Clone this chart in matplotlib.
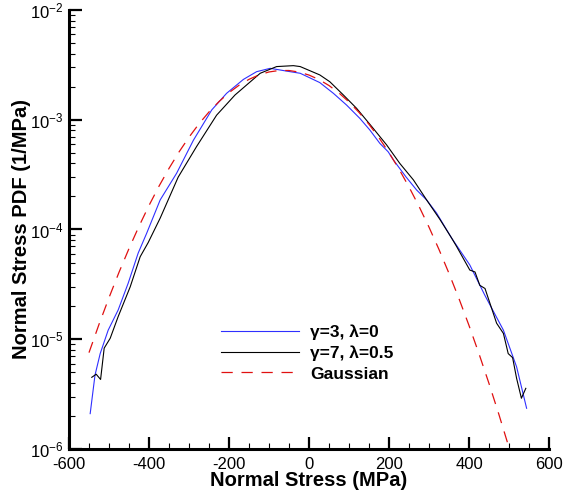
import numpy as np
import matplotlib
matplotlib.use('Agg')
import matplotlib.pyplot as plt
from matplotlib.ticker import LogLocator, MultipleLocator, NullFormatter

plt.rcParams['font.family'] = ['Liberation Sans', 'DejaVu Sans']
plt.rcParams['axes.unicode_minus'] = False

# Datos (esfuerzo normal en MPa, PDF en 1/MPa)
x_azul = [-547, -535, -522, -502, -477, -452, -427, -406, -372, -331, -289,
          -243, -206, -164, -131, -97, -47, -22, 27, 61, 94, 127, 152, 177,
          198, 211, 242, 269, 294, 319, 357, 402, 440, 486, 519, 544]
pdf_azul = [2.1e-6, 4.7e-6, 7.4e-6, 1.21e-5, 1.85e-5, 3.24e-5, 6.1e-5, 9.2e-5,
            1.86e-4, 3.25e-4, 6.5e-4, 1.23e-3, 1.74e-3, 2.33e-3, 2.74e-3,
            2.94e-3, 2.74e-3, 2.65e-3, 2.18e-3, 1.74e-3, 1.36e-3, 1.03e-3,
            8.07e-4, 6.1e-4, 5.1e-4, 4.3e-4, 3.03e-4, 2.29e-4, 1.86e-4,
            1.41e-4, 8.3e-5, 4.75e-5, 2.5e-5, 1.21e-5, 5.6e-6, 2.35e-6]

x_negro = [-543, -532, -521, -512, -497, -477, -447, -422, -402, -372, -327,
           -281, -231, -185, -122, -81, -39, -22, 27, 52, 86, 119, 157, 194,
           227, 261, 294, 327, 357, 369, 402, 415, 427, 440, 469, 486, 498,
           509, 519, 531, 542]
pdf_negro = [4.5e-6, 4.8e-6, 4.3e-6, 8.3e-6, 1.02e-5, 1.61e-5, 3.0e-5, 5.65e-5,
             7.6e-5, 1.27e-4, 3.0e-4, 5.7e-4, 1.10e-3, 1.68e-3, 2.65e-3,
             3.05e-3, 3.11e-3, 3.05e-3, 2.56e-3, 2.22e-3, 1.68e-3, 1.27e-3,
             8.65e-4, 5.9e-4, 4.0e-4, 2.83e-4, 1.86e-4, 1.24e-4, 8.3e-5,
             7.0e-5, 4.27e-5, 4.1e-5, 3.1e-5, 2.9e-5, 1.40e-5, 1.13e-5,
             7.4e-6, 6.8e-6, 4.4e-6, 2.9e-6, 3.57e-6]

x_gauss = [-550, -525, -500, -475, -450, -425, -400, -375, -350, -325, -300,
           -275, -250, -225, -200, -175, -150, -125, -100, -75, -50, -25, 0,
           25, 50, 75, 100, 125, 150, 175, 200, 225, 250, 275, 300, 325, 350,
           375, 400, 425, 450, 475, 500]
pdf_gauss = [7.55e-6, 1.365e-5, 2.39e-5, 4.07e-5, 6.70e-5, 1.069e-4, 1.654e-4,
             2.48e-4, 3.60e-4, 5.08e-4, 6.93e-4, 9.18e-4, 1.177e-3, 1.463e-3,
             1.764e-3, 2.061e-3, 2.333e-3, 2.561e-3, 2.724e-3, 2.809e-3,
             2.808e-3, 2.719e-3, 2.553e-3, 2.323e-3, 2.049e-3, 1.752e-3,
             1.452e-3, 1.166e-3, 9.08e-4, 6.85e-4, 5.01e-4, 3.55e-4, 2.44e-4,
             1.626e-4, 1.050e-4, 6.57e-5, 3.98e-5, 2.34e-5, 1.335e-5, 7.37e-6,
             3.95e-6, 2.05e-6, 1.03e-6]

etiquetas = ['\u03b3=3, \u03bb=0', '\u03b3=7, \u03bb=0.5', 'Gaussian']

fig = plt.figure(figsize=(5.72, 4.94), dpi=100)
ax = fig.add_axes([0.1206, 0.0911, 0.8392, 0.8887])

ax.plot(x_azul, pdf_azul, color='#2f2fff', lw=0.8, label=etiquetas[0])
ax.plot(x_negro, pdf_negro, color='black', lw=0.8, label=etiquetas[1])
ax.plot(x_gauss, pdf_gauss, color='#e01010', lw=0.9, linestyle=(0, (9, 7)),
        label=etiquetas[2])

ax.set_yscale('log')
ax.set_xlim(-600, 600)
ax.set_ylim(1e-6, 1e-2)

#Ejes: solo izquierda y abajo, ticks hacia adentro
ax.spines['top'].set_visible(False)
ax.spines['right'].set_visible(False)
ax.spines['left'].set_linewidth(2.2)
ax.spines['bottom'].set_linewidth(2.2)
ax.xaxis.set_major_locator(MultipleLocator(200))
ax.xaxis.set_minor_locator(MultipleLocator(50))
ax.yaxis.set_major_locator(LogLocator(base=10, numticks=10))
ax.yaxis.set_minor_locator(LogLocator(base=10, subs=np.arange(2, 10), numticks=20))
ax.yaxis.set_minor_formatter(NullFormatter())
ax.tick_params(which='major', direction='in', length=9, width=1.6,
               labelsize=12, pad=4)
ax.tick_params(axis='x', which='major', pad=5.5)
ax.tick_params(which='minor', direction='in', length=4.5, width=0.8)
ax.tick_params(top=False, right=False, which='both')

ax.set_xlabel('Normal Stress (MPa)', fontsize=14.5, fontweight='bold', labelpad=-0.5)
ax.set_ylabel('Normal Stress PDF (1/MPa)', fontsize=14.5, fontweight='bold',
              labelpad=-1)

leg = ax.legend(loc='upper left', bbox_to_anchor=(0.284, 0.32), frameon=False,
                handlelength=4.5, handletextpad=0.63, labelspacing=0.32,
                prop={'weight': 'bold', 'size': 12.5})

plt.savefig('out.png', dpi=100)
